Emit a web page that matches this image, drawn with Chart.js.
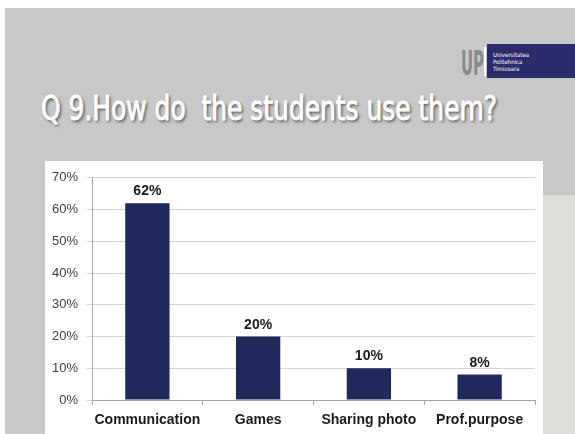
<!DOCTYPE html>
<html>
<head>
<meta charset="utf-8">
<script src="https://cdn.jsdelivr.net/npm/chart.js@4.4.1/dist/chart.umd.min.js"></script>
<style>
  html, body { margin: 0; padding: 0; background: #fff; }
  body { width: 575px; height: 434px; position: relative; overflow: hidden; }
  #slide { position: absolute; left: 5px; top: 8px; right: 0; bottom: 0; background: #c8c8c8; }
  #side { position: absolute; left: 543px; top: 195px; right: 0; bottom: 0; background: #dcdcd8; }
  #title {
    position: absolute; left: 41px; top: 92px; white-space: pre;
    font-family: "Liberation Sans Narrow", "DejaVu Sans Condensed", "Liberation Sans", sans-serif;
    font-size: 33px; line-height: 33px; color: #fff;
    -webkit-text-stroke: 0.8px #fff;
    text-shadow: 2px 2px 3px rgba(40, 40, 40, 0.7);
    transform-origin: 0 0;
  }
  #logo-up {
    position: absolute; left: 461px; top: 47px;
    font-family: "Liberation Sans Narrow", "DejaVu Sans Condensed", sans-serif;
    font-weight: bold; font-size: 33px; line-height: 33px; color: #8a8a8a;
    transform-origin: 0 0;
  }
  #logo-bar { position: absolute; left: 484px; top: 47px; width: 2px; height: 29px; background: #fff; }
  #logo-box {
    position: absolute; left: 487px; top: 44px; width: 88px; height: 34px; background: #2b2c6c;
    font-family: "DejaVu Sans Condensed", sans-serif; font-size: 6px; line-height: 7px; color: #fff;
    box-sizing: border-box; padding: 7px 0 0 6px;
  }
  #panel { position: absolute; left: 45px; top: 161px; width: 498px; height: 273px; background: #fff; }
</style>
</head>
<body>
<div id="slide"></div>
<div id="side"></div>
<div id="logo-up">UP</div>
<div id="logo-bar"></div>
<div id="logo-box">Universitatea<br>Politehnica<br>Timisoara</div>
<div id="title">Q 9.How do  the students use them?</div>
<div id="panel"><canvas id="usage-chart" width="498" height="273"></canvas></div>
<script>
const categories = ["Communication", "Games", "Sharing photo", "Prof.purpose"];
const shares = [62, 20, 10, 8];
const yTicks = [0, 10, 20, 30, 40, 50, 60, 70];

// squeeze the heading and the logo letters into their condensed widths
function fitWidth(el, width) {
  const w = el.getBoundingClientRect().width;
  el.style.transform = "scaleX(" + (width / w) + ")";
}
fitWidth(document.getElementById("title"), 456);
fitWidth(document.getElementById("logo-up"), 23);

// percentage labels above each bar
const barLabels = {
  id: "barLabels",
  afterDatasetsDraw(chart) {
    const ctx = chart.ctx;
    ctx.save();
    ctx.font = "bold 14px 'Liberation Sans', Arial, sans-serif";
    ctx.fillStyle = "#1a1a1a";
    ctx.textAlign = "center";
    ctx.textBaseline = "alphabetic";
    chart.getDatasetMeta(0).data.forEach((bar, i) => {
      ctx.fillText(shares[i] + "%", bar.x, bar.y - 8);
    });
    ctx.restore();
  },
};

const usageChart = new Chart(document.getElementById("usage-chart"), {
  type: "bar",
  data: {
    labels: categories,
    datasets: [
      {
        data: shares,
        backgroundColor: "#1f295c",
        categoryPercentage: 1,
        barPercentage: 0.4,
      },
    ],
  },
  options: {
    responsive: false,
    animation: false,
    devicePixelRatio: 1,
    layout: { padding: { top: 14, right: 8, left: 0, bottom: 0 } },
    plugins: {
      legend: false,
      tooltip: { enabled: false },
    },
    scales: {
      x: {
        offset: true,
        grid: {
          offset: true,
          drawOnChartArea: false,
          tickLength: 5,
          color: "#a6a6a6",
        },
        border: { color: "#a6a6a6" },
        ticks: {
          padding: 7,
          maxRotation: 0,
          minRotation: 0,
          autoSkip: false,
          color: "#1a1a1a",
          font: { family: "'Liberation Sans', Arial, sans-serif", size: 14, weight: "bold" },
        },
        afterFit: (scale) => { scale.height = 34; },
      },
      y: {
        min: yTicks[0],
        max: yTicks[yTicks.length - 1],
        afterBuildTicks: (scale) => { scale.ticks = yTicks.map((v) => ({ value: v })); },
        grid: { color: "#d4d4d4", tickLength: 5 },
        border: { color: "#a6a6a6" },
        ticks: {
          padding: 9,
          color: "#404040",
          font: { family: "'Liberation Sans', Arial, sans-serif", size: 13 },
          callback: (v) => v + "%",
        },
        afterFit: (scale) => { scale.width = 47; },
      },
    },
  },
  plugins: [barLabels],
});
</script>
</body>
</html>
